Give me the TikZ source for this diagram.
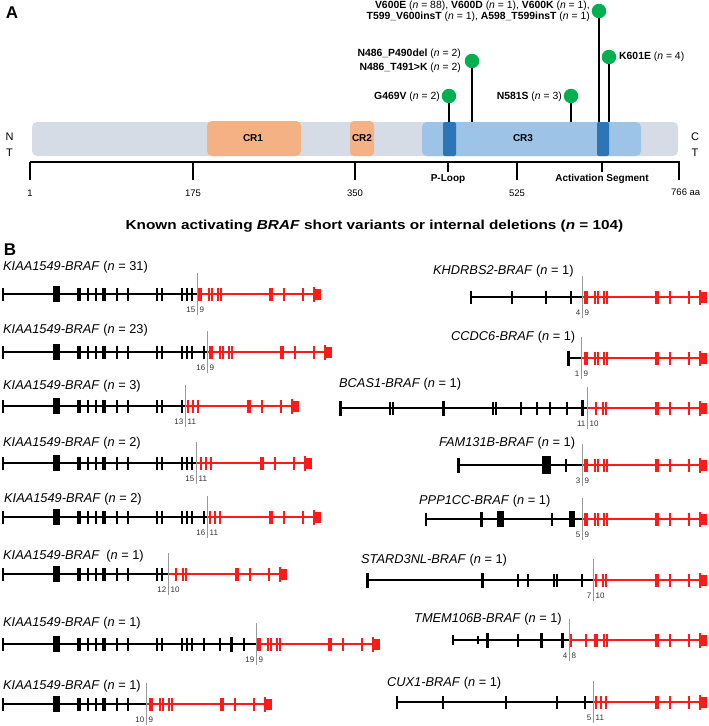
\documentclass[tikz,border=0pt]{standalone}
\usepackage{fontspec}
\setmainfont{Liberation Sans}
\newfontfamily\widefont[FakeStretch=1.18]{Liberation Sans}
\definecolor{barbg}{HTML}{D6DCE5}
\definecolor{cro}{HTML}{F4B183}
\definecolor{crb}{HTML}{9DC3E6}
\definecolor{crd}{HTML}{2E75B6}
\definecolor{lolly}{HTML}{00B050}
\definecolor{bred}{HTML}{FF1A1A}
\tikzset{
  bline/.style={line width=1.4pt, black},
  thk/.style={line width=3pt, black},
  rline/.style={line width=1.5pt, bred},
  brk/.style={line width=0.9pt, black!40},
  exlab/.style={font=\fontsize{8}{9}\selectfont, text=black!80, inner sep=0pt},
  genelab/.style={font=\fontsize{12.8}{14}\selectfont, anchor=mid west, inner sep=0pt},
  mutlab/.style={font=\fontsize{10.4}{11}\selectfont, inner sep=0pt},
  axnum/.style={font=\fontsize{9.5}{10}\selectfont, inner sep=0pt},
  lol/.style={circle, fill=lolly, minimum size=14.5pt, inner sep=0pt},
  stem/.style={line width=1.5pt, black},
  crlab/.style={font=\bfseries\fontsize{10}{11}\selectfont, inner sep=0pt},
  panel/.style={font=\bfseries\fontsize{17}{18}\selectfont, inner sep=0pt},
}
% offsets of BRAF exons relative to the end of the red part
\def\exnine{-122,-120,-112,-109,-103,-100,-51,-49,-37,-18}
\def\exten{-111,-104,-101,-51,-49,-37,-18}
\def\exeleven{-111,-106,-101,-51,-49,-37,-18}
\def\exeight{-136,-121,-112,-110,-103,-100,-51,-49,-37,-18}
% KIAA1549 exon positions
\def\kTen{78,80,88,96,103,105,117,128}
\def\kTwelve{78,80,88,96,103,105,117,128,157,162}
\def\kThirteen{78,80,88,96,103,105,117,128,157,162,182}
\def\kFifteen{78,80,88,96,103,105,117,128,157,162,182,187,192}
\def\kSixteen{78,80,88,96,103,105,117,128,157,162,182,187,192,204}
\def\kNineteen{78,80,88,96,103,105,117,128,157,162,182,187,192,204,220,231,244}
% #1 id, #2 y, #3 breakpoint x, #4 end x, #5 offsets macro, #6 left exon, #7 right exon
\newcommand\fusion[7]{%
  \draw[rline] ({#3},{#2}) -- ({#4-6},{#2});
  \foreach \o in #5 {\draw[rline] ({#4+(\o)},{#2-6.5}) -- ({#4+(\o)},{#2+6.5});}
  \draw[rline] ({#4-7},{#2-7.5}) -- ({#4-7},{#2+7.5});
  \fill[bred] ({#4-7},{#2-5.5}) rectangle ({#4},{#2+5.5});
  \draw[brk] ({#3},{#2-21}) -- ({#3},{#2+21});
  \node[exlab,anchor=mid east] (#1l) at ({#3-1.5},{#2+16}) {#6};
  \node[exlab,anchor=mid west] (#1r) at ({#3+2.5},{#2+16}) {#7};
}
% #1 y, #2 breakpoint x, #3 exon list
\newcommand\kiaa[3]{%
  \draw[bline] (3,{#1}) -- ({#2},{#1});
  \draw[bline] (3,{#1-6.5}) -- (3,{#1+6.5});
  \fill (53,{#1-8}) rectangle (60,{#1+8});
  \foreach \t in #3 {\draw[bline] (\t,{#1-6.5}) -- (\t,{#1+6.5});}
}
\newcommand\tk[2]{\draw[bline] ({#2},{#1-6.5}) -- ({#2},{#1+6.5});}
\newcommand\ttk[2]{\draw[thk] ({#2},{#1-7.5}) -- ({#2},{#1+7.5});}
\newcommand\glab[5]{\node[genelab] (#1) at (#2,#3) {\textit{#4} (\textit{n} = #5)};}
\begin{document}
\begin{tikzpicture}[x=1pt,y=-1pt]
\useasboundingbox (0,0) rectangle (709,726);
% ---------------- Panel A ----------------
\node[panel] (pA) at (12,12.5) {A};
\fill[barbg, rounded corners=5pt] (32,122) rectangle (678,156);
\fill[cro, rounded corners=5pt] (207,121) rectangle (301,156);
\fill[cro, rounded corners=4pt] (350,121) rectangle (374,156);
\fill[crb, rounded corners=5pt] (422,122) rectangle (641,156);
\fill[crd, rounded corners=2pt] (443,122) rectangle (456,156);
\fill[crd, rounded corners=2pt] (597,122) rectangle (609,156);
\node[crlab] (cr1) at (253,138.5) {CR1};
\node[crlab] (cr2) at (362,138.5) {CR2};
\node[crlab] (cr3) at (523,138.5) {CR3};
\node[font=\fontsize{11}{12}\selectfont, inner sep=0pt] (nt1) at (9.5,137) {N};
\node[font=\fontsize{11}{12}\selectfont, inner sep=0pt] (nt2) at (9.5,153) {T};
\node[font=\fontsize{11}{12}\selectfont, inner sep=0pt] (ct1) at (695,137) {C};
\node[font=\fontsize{11}{12}\selectfont, inner sep=0pt] (ct2) at (695,153) {T};
% lollipops
\node[lol] (g469) at (449,96) {};
\node[lol] (n486) at (472,61) {};
\node[lol] (n581) at (571,96) {};
\node[lol] (v600) at (599,11) {};
\node[lol] (k601) at (609,57) {};
\coordinate (g469b) at (449,122);
\coordinate (n486b) at (472,122);
\coordinate (n581b) at (571,122);
\coordinate (v600b) at (599,122);
\coordinate (k601b) at (609,122);
\draw[stem] (g469.south) -- (g469b);
\draw[stem] (n486.south) -- (n486b);
\draw[stem] (n581.south) -- (n581b);
\draw[stem] (v600.south) -- (v600b);
\draw[stem] (k601.south) -- (k601b);
\node[mutlab, anchor=mid east] (lg469) at (440,96.5) {\textbf{G469V} (\textit{n} = 2)};
\node[mutlab, anchor=mid east] (ln486a) at (461,54) {\textbf{N486\_P490del} (\textit{n} = 2)};
\node[mutlab, anchor=mid east] (ln486b) at (461,67.5) {\textbf{N486\_T491>K} (\textit{n} = 2)};
\node[mutlab, anchor=mid east] (ln581) at (562,96.5) {\textbf{N581S} (\textit{n} = 3)};
\node[mutlab, anchor=mid east] (lv600a) at (590,5.8) {\textbf{V600E} (\textit{n} = 88), \textbf{V600D} (\textit{n} = 1), \textbf{V600K} (\textit{n} = 1),};
\node[mutlab, anchor=mid east] (lv600b) at (590,17.2) {\textbf{T599\_V600insT} (\textit{n} = 1), \textbf{A598\_T599insT} (\textit{n} = 1)};
\node[mutlab, anchor=mid west] (lk601) at (619,57) {\textbf{K601E} (\textit{n} = 4)};
% axis
\coordinate (ax0) at (30,162);
\coordinate (ax1) at (680,162);
\draw[line width=1.5pt] (ax0) -- (ax1);
\foreach \p in {30,193,355,517,679} {\draw[line width=1.5pt] (\p,162) -- (\p,180);}
\foreach \p in {448,602} {\draw[line width=1.5pt] (\p,162) -- (\p,172);}
\node[axnum] (t1) at (30,193) {1};
\node[axnum] (t175) at (193,193) {175};
\node[axnum] (t350) at (355,193) {350};
\node[axnum] (t525) at (517,193) {525};
\node[axnum, anchor=mid west] (t766) at (671,193) {766 aa};
\node[crlab] (ploop) at (448,179) {P-Loop};
\node[crlab] (aseg) at (602,179) {Activation Segment};
\node[font=\widefont\bfseries\fontsize{13}{14}\selectfont, inner sep=0pt] (title) at (374.5,226)
  {Known activating \textit{BRAF} short variants or internal deletions (\textit{n} = 104)};
% ---------------- Panel B ----------------
\node[panel] (pB) at (10,250) {B};
% left column
\glab{gl1}{3}{268}{KIAA1549-BRAF}{31}
\kiaa{294}{197}{\kFifteen}
\fusion{f1}{294}{197}{321}{\exnine}{15}{9}
\glab{gl2}{3}{331}{KIAA1549-BRAF}{23}
\kiaa{352}{207}{\kSixteen}
\fusion{f2}{352}{207}{332}{\exnine}{16}{9}
\glab{gl3}{3}{387}{KIAA1549-BRAF}{3}
\kiaa{406}{185}{\kThirteen}
\fusion{f3}{406}{185}{299}{\exeleven}{13}{11}
\glab{gl4}{3}{444}{KIAA1549-BRAF}{2}
\kiaa{463}{196}{\kFifteen}
\fusion{f4}{463}{196}{312}{\exeleven}{15}{11}
\glab{gl5}{4}{500}{KIAA1549-BRAF}{2}
\kiaa{517}{207}{\kSixteen}
\fusion{f5}{517}{207}{321}{\exeleven}{16}{11}
\node[genelab] (gl6) at (3,557) {\textit{KIAA1549-BRAF}\hspace{3pt} (\textit{n} = 1)};
\kiaa{574}{168}{\kTwelve}
\fusion{f6}{574}{168}{287}{\exten}{12}{10}
\glab{gl7}{3}{624}{KIAA1549-BRAF}{1}
\kiaa{644}{256}{\kNineteen}
\draw[thk] (231,636.5) -- (231,651.5);
\fusion{f7}{644}{256}{380}{\exnine}{19}{9}
\glab{gl8}{3}{687}{KIAA1549-BRAF}{1}
\kiaa{704}{146}{\kTen}
\fusion{f8}{704}{146}{272}{\exnine}{10}{9}
% right column
\glab{gr1}{433}{272}{KHDRBS2-BRAF}{1}
\draw[bline] (471,297) -- (582,297);
\tk{297}{471}\tk{297}{512}\tk{297}{546}\tk{297}{571}
\fusion{r1}{297}{582}{707}{\exnine}{4}{9}
\glab{gr2}{451}{338}{CCDC6-BRAF}{1}
\draw[bline] (568,358) -- (581,358);
\ttk{358}{568}
\fusion{r2}{358}{581}{707}{\exnine}{1}{9}
\glab{gr3}{339}{385}{BCAS1-BRAF}{1}
\draw[bline] (340,408) -- (587,408);
\ttk{408}{340}\tk{408}{390}\tk{408}{393}\ttk{408}{443}\tk{408}{493}\tk{408}{496}
\tk{408}{521}\tk{408}{537}\tk{408}{550}\tk{408}{567}
\fill (580.5,400) rectangle (584,416);
\fusion{r3}{408}{587}{707}{\exten}{11}{10}
\glab{gr4}{439}{444}{FAM131B-BRAF}{1}
\draw[bline] (458,465) -- (582,465);
\ttk{465}{458}\tk{465}{566}
\fill (542,456) rectangle (551,474);
\fusion{r4}{465}{582}{707}{\exnine}{3}{9}
\glab{gr5}{419}{502}{PPP1CC-BRAF}{1}
\draw[bline] (426,519) -- (582,519);
\tk{519}{426}\ttk{519}{481}\tk{519}{552}
\fill (497,511) rectangle (504,527);
\fill (569,511) rectangle (574.5,527);
\fusion{r5}{519}{582}{707}{\exnine}{5}{9}
\glab{gr6}{361}{561}{STARD3NL-BRAF}{1}
\draw[bline] (367,580) -- (593,580);
\ttk{580}{367}\ttk{580}{482}\tk{580}{518}\tk{580}{528}\tk{580}{554}\tk{580}{557}\tk{580}{582}
\fusion{r6}{580}{593}{707}{\exten}{7}{10}
\glab{gr7}{414}{620}{TMEM106B-BRAF}{1}
\draw[bline] (453,640) -- (569,640);
\draw[bline] (453,635) -- (453,645);
\draw[bline] (478,636) -- (478,644);
\ttk{640}{487}\tk{640}{518}\ttk{640}{541}\ttk{640}{562}
\fusion{r7}{640}{569}{707}{\exeight}{4}{8}
\glab{gr8}{387}{684}{CUX1-BRAF}{1}
\draw[bline] (397,702) -- (593,702);
\tk{702}{397}\tk{702}{443}\tk{702}{506}\tk{702}{557}\tk{702}{585}
\fusion{r8}{702}{593}{707}{\exeleven}{5}{11}
\end{tikzpicture}
\end{document}
